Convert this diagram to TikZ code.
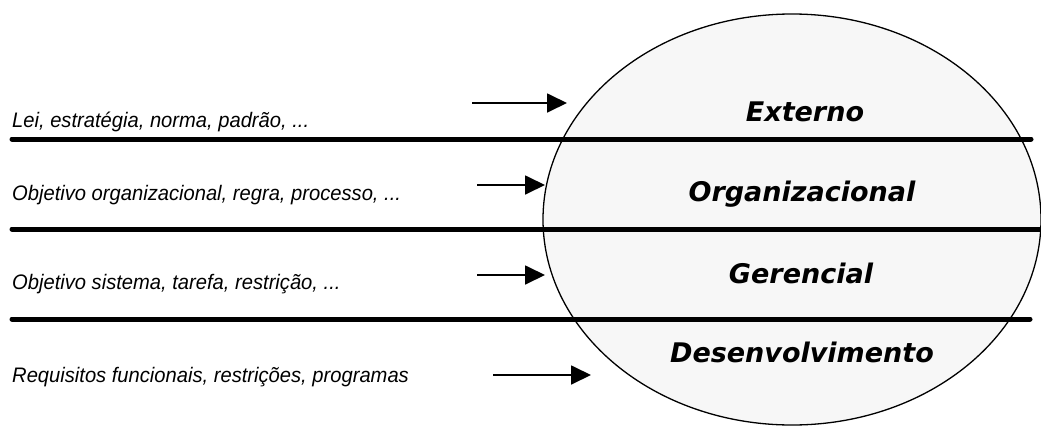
\documentclass[tikz,border=0pt]{standalone}
\usepackage{fontspec}
\setmainfont{Liberation Sans}
\newfontfamily\sourcefont[FakeStretch=0.96]{Liberation Sans}
\newfontfamily\levelfont{DejaVu Sans}
\usetikzlibrary{shapes.geometric,arrows.meta}
\begin{document}
\begin{tikzpicture}[x=1pt,y=-1pt,
  layer/.style={ellipse,draw=black,line width=1.3pt,fill=black!3,
    minimum width=498pt,minimum height=411pt,inner sep=0pt},
  divider/.style={line width=5pt,line cap=round},
  feed/.style={line width=1.8pt,-{Triangle[length=20pt,width=19pt]}},
  source/.style={anchor=base west,inner sep=0pt,font=\sourcefont\fontsize{21}{25}\selectfont\itshape},
  level/.style={anchor=base,inner sep=0pt,font=\levelfont\fontsize{27}{32}\selectfont\bfseries\itshape}]
\useasboundingbox (0,0) rectangle (1041,426);
% the four levels as one ellipse
\node[layer] (ell) at (792,219.5) {};
% dividing lines
\coordinate (d1a) at (12,139);  \coordinate (d1b) at (1031,139);
\coordinate (d2a) at (12,229);  \coordinate (d2b) at (1041,229);
\coordinate (d3a) at (12,319);  \coordinate (d3b) at (1030,319);
\draw[divider] (d1a) -- (d1b);
\draw[divider] (d2a) -- (d2b);
\draw[divider] (d3a) -- (d3b);
% level names
\node[level] (ext) at (805,121) {Externo};
\node[level] (org) at (802,201) {Organizacional};
\node[level] (ger) at (801,283) {Gerencial};
\node[level] (des) at (802,362) {Desenvolvimento};
% inputs on the left
\node[source] (s1) at (12,127) {Lei, estratégia, norma, padrão, ...};
\node[source] (s2) at (12,200) {Objetivo organizacional, regra, processo, ...};
\node[source] (s3) at (12,289) {Objetivo sistema, tarefa, restrição, ...};
\node[source] (s4) at (12,382) {Requisitos funcionais, restrições, programas};
% arrows into the levels
\coordinate (a1) at (472,103); \coordinate (b1) at (567,103);
\coordinate (a2) at (477,185); \coordinate (b2) at (545,185);
\coordinate (a3) at (477,275); \coordinate (b3) at (545,275);
\coordinate (a4) at (493,375); \coordinate (b4) at (591,375);
\draw[feed] (a1) -- (b1);
\draw[feed] (a2) -- (b2);
\draw[feed] (a3) -- (b3);
\draw[feed] (a4) -- (b4);
\end{tikzpicture}
\end{document}
